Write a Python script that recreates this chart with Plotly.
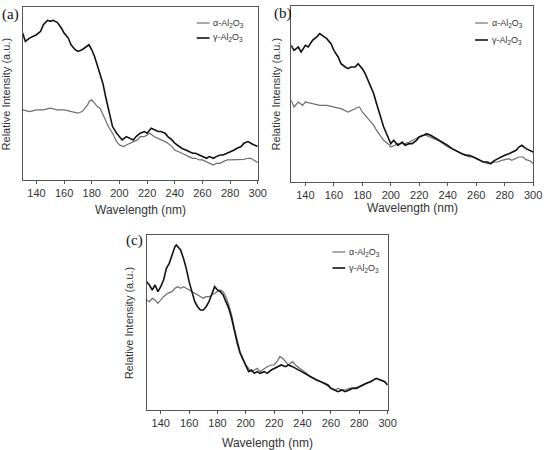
import plotly.graph_objects as go

# ---------------- data ----------------
TICKS = [140, 160, 180, 200, 220, 240, 260, 280, 300]
PANEL_LABELS = ["(a)", "(b)", "(c)"]
SERIES_NAMES = ["α-Al<sub>2</sub>O<sub>3</sub>", "γ-Al<sub>2</sub>O<sub>3</sub>"]

# panel (a)
A_GAMMA_X = [130, 132, 135, 140, 143, 145, 148, 150, 152, 155, 158, 160, 163, 165, 168, 170, 173, 175, 177, 178,
             180, 182, 185, 188, 190, 192, 195, 198, 200, 202, 205, 208, 210, 212, 215, 218, 220, 223, 225, 228,
             230, 233, 235, 238, 240, 243, 245, 248, 250, 253, 255, 258, 260, 263, 265, 268, 270, 273, 275, 278,
             280, 283, 285, 288, 290, 293, 295, 298, 300]
A_GAMMA_Y = [440, 415, 425, 435, 445, 465, 478, 475, 478, 472, 455, 440, 425, 405, 390, 385, 390, 395, 400, 405,
             390, 370, 330, 290, 250, 210, 160, 140, 130, 120, 130, 125, 120, 130, 140, 145, 140, 155, 150, 145,
             145, 140, 130, 120, 110, 100, 95, 90, 85, 80, 80, 75, 70, 65, 70, 65, 70, 75, 75, 80,
             85, 90, 95, 100, 110, 115, 110, 105, 100]
A_ALPHA_X = [130, 135, 140, 145, 150, 155, 160, 165, 170, 173, 175, 177, 178, 180, 182, 184, 186, 188, 190, 192,
             195, 198, 200, 203, 205, 208, 210, 213, 215, 218, 220, 222, 225, 228, 230, 233, 235, 238, 240, 243,
             245, 248, 250, 253, 255, 258, 260, 263, 265, 268, 270, 273, 275, 278, 280, 285, 290, 293, 295, 300]
A_ALPHA_Y = [210, 205, 210, 210, 215, 210, 210, 205, 200, 205, 215, 225, 235, 240, 230, 220, 215, 195, 175, 160,
             140, 115, 105, 100, 105, 110, 115, 120, 130, 130, 135, 140, 130, 125, 120, 115, 110, 100, 90, 85,
             80, 75, 70, 65, 65, 60, 60, 55, 50, 45, 50, 50, 55, 60, 60, 60, 62, 65, 65, 52]

# panel (b)
B_GAMMA_X = [130, 132, 135, 137, 140, 142, 145, 148, 150, 152, 155, 158, 160, 163, 165, 168, 170, 172, 175, 177,
             178, 180, 182, 185, 188, 190, 192, 195, 198, 200, 202, 205, 208, 210, 213, 215, 218, 220, 223, 225,
             228, 230, 233, 235, 238, 240, 243, 245, 248, 250, 253, 255, 258, 260, 263, 265, 268, 270, 273, 275,
             278, 280, 283, 285, 288, 290, 292, 295, 298, 300]
B_GAMMA_Y = [410, 395, 405, 390, 410, 405, 425, 435, 445, 440, 430, 415, 395, 375, 355, 345, 340, 345, 345, 355,
             350, 340, 325, 295, 265, 235, 205, 165, 135, 115, 125, 110, 120, 110, 115, 115, 125, 135, 140, 145,
             140, 135, 130, 125, 115, 110, 100, 95, 90, 85, 80, 80, 75, 70, 65, 60, 60, 55, 65, 70,
             75, 80, 85, 90, 95, 105, 110, 100, 95, 90]
B_ALPHA_X = [130, 132, 135, 138, 140, 145, 150, 155, 160, 165, 170, 173, 175, 177, 178, 180, 183, 185, 188, 190,
             193, 195, 198, 200, 203, 205, 208, 210, 213, 215, 218, 220, 222, 225, 228, 230, 233, 235, 238, 240,
             243, 245, 248, 250, 253, 255, 258, 260, 263, 265, 268, 270, 273, 275, 278, 280, 283, 285, 288, 290,
             293, 295, 298, 300]
B_ALPHA_Y = [245, 225, 240, 230, 240, 235, 230, 230, 225, 220, 210, 215, 220, 225, 225, 210, 195, 185, 170, 155,
             135, 125, 115, 105, 110, 115, 115, 115, 120, 125, 130, 135, 140, 140, 135, 130, 125, 120, 110, 105,
             100, 95, 90, 85, 80, 75, 75, 70, 65, 60, 55, 55, 60, 60, 65, 67, 70, 65, 70, 75,
             75, 67, 63, 55]

# panel (c)
C_GAMMA_X = [130, 132, 134, 136, 138, 140, 142, 144, 146, 148, 150, 151, 152, 154, 156, 158, 160, 162, 164, 166,
             168, 170, 172, 174, 176, 178, 180, 182, 184, 186, 188, 190, 192, 194, 196, 198, 200, 202, 204, 206,
             208, 210, 213, 215, 218, 220, 222, 225, 228, 230, 233, 235, 238, 240, 243, 245, 248, 250, 253, 255,
             258, 260, 263, 265, 268, 270, 273, 275, 278, 280, 283, 285, 288, 290, 292, 295, 298, 300]
C_GAMMA_Y = [385, 375, 360, 375, 355, 370, 390, 425, 440, 465, 490, 495, 490, 480, 455, 425, 385, 355, 325, 310,
             300, 300, 310, 325, 345, 370, 360, 355, 345, 325, 305, 275, 235, 200, 170, 150, 135, 115, 120, 110,
             115, 110, 115, 110, 120, 125, 130, 135, 130, 135, 130, 125, 120, 115, 105, 100, 95, 90, 85, 80,
             75, 65, 60, 55, 60, 55, 60, 65, 65, 70, 75, 80, 85, 90, 95, 90, 85, 75]
C_ALPHA_X = [130, 132, 134, 136, 138, 140, 142, 145, 148, 150, 152, 154, 156, 158, 160, 162, 164, 166, 168, 170,
             172, 174, 176, 178, 180, 182, 184, 186, 188, 190, 192, 194, 196, 198, 200, 202, 204, 206, 208, 210,
             213, 215, 218, 220, 222, 224, 226, 228, 230, 233, 235, 238, 240, 243, 245, 248, 250, 253, 255, 258,
             260, 263, 265, 268, 270, 273, 275, 278, 280, 283, 285, 288, 290, 292, 295, 298, 300]
C_ALPHA_Y = [330, 325, 335, 330, 320, 330, 340, 350, 355, 365, 370, 365, 370, 365, 360, 355, 350, 345, 340, 335,
             340, 340, 345, 350, 355, 360, 355, 340, 315, 285, 245, 210, 175, 155, 135, 125, 115, 120, 125, 115,
             125, 130, 135, 135, 145, 160, 155, 145, 135, 145, 135, 125, 120, 110, 100, 95, 90, 85, 80, 70,
             65, 60, 65, 60, 60, 65, 65, 67, 70, 75, 80, 85, 90, 95, 90, 85, 75]

Y_MAX = [518, 528, 525]

# ---------------- layout geometry (pixels) ----------------
W, H = 551, 450
# plot boxes: (left, right, top, bottom)
BOXES = [(23, 262, 7, 180), (296, 542, 6, 182), (149, 394, 235, 410)]
LEG = [(200, 23, 38), (483, 23, 40), (338, 252, 268)]  # x of line start, y alpha, y gamma
YTITLE_X = [6, 281, 131]
XTITLE_Y = [210, 208, 443]
LABEL_POS = [(0, 15), (277, 14), (126, 240)]

ALPHA_COLOR = "#6e6e6e"
GAMMA_COLOR = "#111111"
BORDER = "#555555"

fig = go.Figure()

data = [
    (A_ALPHA_X, A_ALPHA_Y, A_GAMMA_X, A_GAMMA_Y),
    (B_ALPHA_X, B_ALPHA_Y, B_GAMMA_X, B_GAMMA_Y),
    (C_ALPHA_X, C_ALPHA_Y, C_GAMMA_X, C_GAMMA_Y),
]

def px(x):
    return x / W

def py(y):
    return 1 - y / H

annotations = []
shapes = []
for i, (ax_, ay_, gx_, gy_) in enumerate(data):
    suf = "" if i == 0 else str(i + 1)
    fig.add_trace(go.Scatter(x=ax_, y=ay_, mode="lines", name=SERIES_NAMES[0],
                             line=dict(color=ALPHA_COLOR, width=1.2), showlegend=False,
                             xaxis="x" + suf, yaxis="y" + suf))
    fig.add_trace(go.Scatter(x=gx_, y=gy_, mode="lines", name=SERIES_NAMES[1],
                             line=dict(color=GAMMA_COLOR, width=1.6), showlegend=False,
                             xaxis="x" + suf, yaxis="y" + suf))
    l, r, t, b = BOXES[i]
    fig.update_layout(**{
        "xaxis" + suf: dict(domain=[px(l), px(r)], anchor="y" + suf, range=[130, 300],
                            tickvals=TICKS, ticks="outside", ticklen=3, tickcolor=BORDER,
                            showline=True, linecolor=BORDER, linewidth=1, mirror=True,
                            showgrid=False, zeroline=False,
                            tickfont=dict(family="Liberation Sans", size=11, color="#333333")),
        "yaxis" + suf: dict(domain=[py(b), py(t)], anchor="x" + suf, range=[0, Y_MAX[i]],
                            showticklabels=False, ticks="",
                            showline=True, linecolor=BORDER, linewidth=1, mirror=True,
                            showgrid=False, zeroline=False),
    })
    # axis titles
    annotations.append(dict(x=px((l + r) / 2), y=py(XTITLE_Y[i]), xref="paper", yref="paper",
                            text="Wavelength (nm)", showarrow=False,
                            font=dict(family="Liberation Sans", size=12, color="#333333"),
                            xanchor="center", yanchor="middle"))
    annotations.append(dict(x=px(YTITLE_X[i]), y=py((t + b) / 2), xref="paper", yref="paper",
                            text="Relative Intensity (a.u.)", showarrow=False, textangle=-90,
                            font=dict(family="Liberation Sans", size=11, color="#333333"),
                            xanchor="center", yanchor="middle"))
    # panel label
    lx, ly = LABEL_POS[i]
    annotations.append(dict(x=px(lx), y=py(ly), xref="paper", yref="paper",
                            text=PANEL_LABELS[i], showarrow=False,
                            font=dict(family="Liberation Serif", size=15, color="#111111"),
                            xanchor="left", yanchor="middle"))
    # legend
    gx0, yal, yga = LEG[i]
    for name, yy, col, w in [(SERIES_NAMES[0], yal, ALPHA_COLOR, 1.2), (SERIES_NAMES[1], yga, GAMMA_COLOR, 1.6)]:
        shapes.append(dict(type="line", xref="paper", yref="paper",
                           x0=px(gx0), x1=px(gx0 + 13), y0=py(yy), y1=py(yy),
                           line=dict(color=col, width=w)))
        annotations.append(dict(x=px(gx0 + 15), y=py(yy), xref="paper", yref="paper",
                                text=name, showarrow=False,
                                font=dict(family="Liberation Sans", size=9, color="#333333"),
                                xanchor="left", yanchor="middle"))

fig.update_layout(width=W, height=H, margin=dict(l=0, r=0, t=0, b=0),
                  paper_bgcolor="white", plot_bgcolor="white",
                  annotations=annotations, shapes=shapes, showlegend=False)

fig.write_html("out.html")
